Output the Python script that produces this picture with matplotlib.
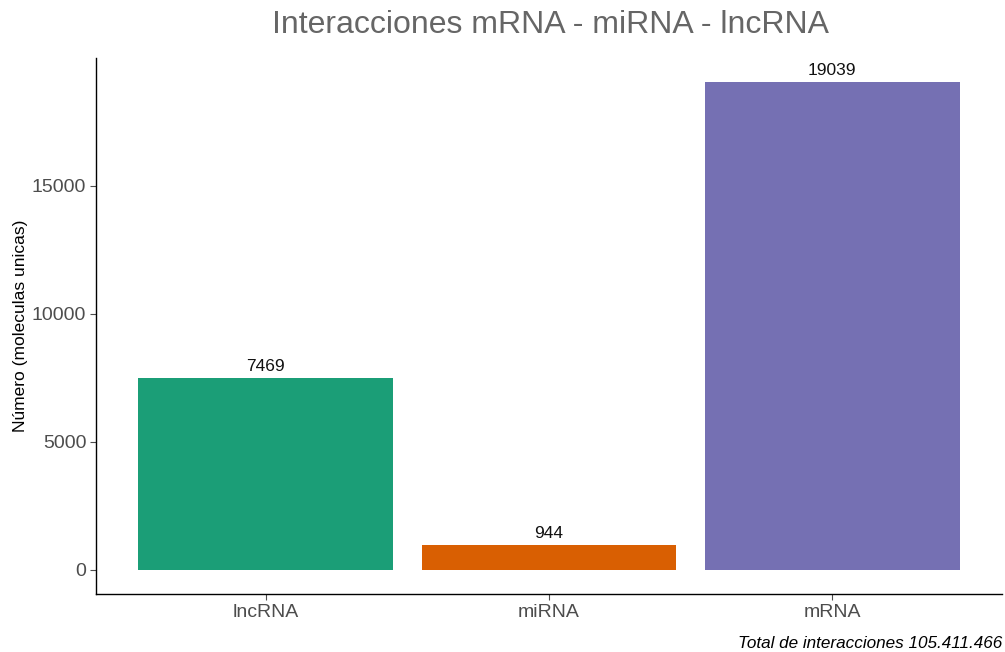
import matplotlib
matplotlib.use("Agg")
import matplotlib.pyplot as plt

categories = ["lncRNA", "miRNA", "mRNA"]
values = [7469, 944, 19039]
colors = ["#1B9E77", "#D95F02", "#7570B3"]
yticks = [0, 5000, 10000, 15000]

plt.rcParams['font.family'] = ['Liberation Sans', 'DejaVu Sans']

fig = plt.figure(figsize=(10.05, 6.52), dpi=100)
ax = fig.add_axes([96/1005, (652-594)/652, (1002-96)/1005, (594-58)/652])

x = list(range(1, len(categories) + 1))
ax.bar(x, values, width=0.9, color=colors)
for xi, v in zip(x, values):
    ax.text(xi, v + 170, str(v), ha='center', va='bottom', fontsize=12.5, color='#111111')

ax.set_xlim(0.4, 3.6)
ax.set_ylim(-952, 19991)
ax.set_xticks(x)
ax.set_xticklabels(categories)
ax.set_yticks(yticks)
ax.set_yticklabels([str(t) for t in yticks])
ax.tick_params(axis='both', colors='#4D4D4D', labelsize=14, length=4, width=0.8)
ax.tick_params(axis='x', pad=3)
ax.tick_params(axis='y', pad=3)
for s in ['top', 'right']:
    ax.spines[s].set_visible(False)
for s in ['left', 'bottom']:
    ax.spines[s].set_color('black')
    ax.spines[s].set_linewidth(1.0)

ax.set_ylabel("Número (moleculas unicas)", fontsize=12.5, color='black', labelpad=3)
fig.text(0.5 + 48/1005, 1 - 25/652, "Interacciones mRNA - miRNA - lncRNA", ha='center', va='center',
         fontsize=23, color='#666666')
fig.text(1002/1005, 1 - 644/652, "Total de interacciones 105.411.466", ha='right', va='center',
         fontsize=12.3, style='italic', color='black')

fig.savefig("out.png", dpi=100)
